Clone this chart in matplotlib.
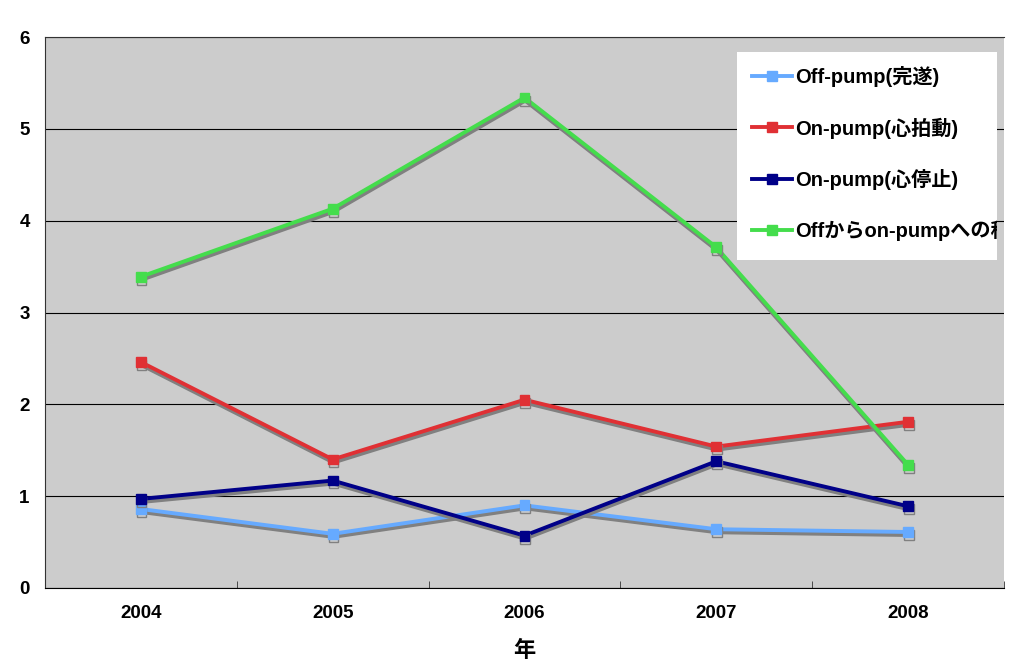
import matplotlib.pyplot as plt
import matplotlib.patheffects as pe
from matplotlib.patches import Rectangle
from matplotlib.transforms import Bbox, TransformedBbox

plt.rcParams['font.family'] = ['Liberation Sans', 'Noto Sans CJK JP', 'DejaVu Sans']

years = ['2004', '2005', '2006', '2007', '2008']
off_pump = [0.86, 0.59, 0.90, 0.64, 0.61]
on_beating = [2.46, 1.40, 2.05, 1.54, 1.81]
on_arrest = [0.97, 1.17, 0.57, 1.38, 0.89]
conversion = [3.39, 4.13, 5.34, 3.71, 1.34]

series = [
    ('Off-pump(完遂)', off_pump, '#66aaff'),
    ('On-pump(心拍動)', on_beating, '#e03034'),
    ('On-pump(心停止)', on_arrest, '#000088'),
    ('Offからon-pumpへの移', conversion, '#44dd4c'),
]

fig = plt.figure(figsize=(10.15, 6.68), dpi=100, facecolor='white')

ax = fig.add_axes([45 / 1015, 80 / 668, 959 / 1015, 551 / 668])
ax.set_facecolor('#cccccc')

x = list(range(len(years)))
shadow = [pe.SimpleLineShadow(offset=(0.5, -2.2), shadow_color='#808080', alpha=1), pe.Normal()]
for label, vals, col in series:
    ax.plot(x, vals, color=col, lw=2.8, marker='s', markersize=7, label=label,
            path_effects=shadow, zorder=3)

ax.set_xlim(-0.5, 4.5)
ax.set_ylim(0, 6)
ax.set_yticks(range(7))
ax.set_xticks(x)
ax.set_xticklabels(years)
ax.set_xticks([i + 0.5 for i in range(-1, 5)], minor=True)
ax.tick_params(axis='x', which='major', length=0, pad=12)
ax.tick_params(axis='x', which='minor', direction='in', length=5, color='#333333')
ax.tick_params(axis='y', length=0, pad=11)
for t in ax.get_xticklabels() + ax.get_yticklabels():
    t.set_fontsize(13.5)
    t.set_fontweight('bold')

ax.grid(axis='y', color='black', lw=0.8)
ax.set_axisbelow(True)
ax.spines['right'].set_visible(False)
ax.spines['top'].set_color('#333333')
ax.spines['left'].set_color('#333333')

ax.set_xlabel('年', fontsize=16, fontweight='bold', labelpad=14)

# white legend box, text clipped at its right edge
ax.add_patch(Rectangle((737 / 1015, 1 - 260 / 668), 260 / 1015, 208 / 668,
                       transform=fig.transFigure, facecolor='white', edgecolor='none',
                       clip_on=False, zorder=4))
leg = ax.legend(loc='upper left', bbox_to_anchor=(738 / 1015, 1 - 52 / 668),
                bbox_transform=fig.transFigure, frameon=False,
                prop={'size': 14.5, 'weight': 'bold'},
                labelspacing=1.5, handlelength=2.0, handletextpad=0.15,
                borderpad=0.7, borderaxespad=0)
leg.set_zorder(5)
for h in leg.get_lines():
    h.set_path_effects([])
clip = TransformedBbox(Bbox([[0, 0], [997 / 1015, 1]]), fig.transFigure)
for t in leg.get_texts():
    t.set_clip_box(clip)
    t.set_clip_on(True)

fig.savefig('out.png', dpi=100, facecolor='white')
